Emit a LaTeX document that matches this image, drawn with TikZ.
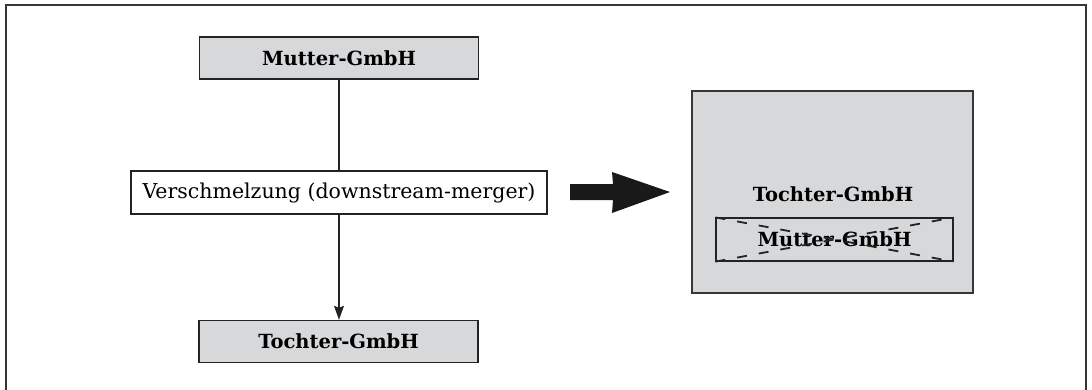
\documentclass[tikz,border=0pt]{standalone}
\usepackage{fontspec}
\setmainfont{DejaVu Serif}
\usetikzlibrary{arrows.meta}
\definecolor{boxgray}{RGB}{215,216,218}
\definecolor{edge}{RGB}{35,35,35}
\definecolor{framegray}{RGB}{55,55,55}
\begin{document}
\begin{tikzpicture}[x=1pt,y=-1pt,
  bigbold/.style={font=\fontsize{19.5}{22}\selectfont\bfseries},
  entity/.style={draw=edge,line width=1.4pt,fill=boxgray,minimum width=279pt,minimum height=42pt,
    inner sep=0pt,bigbold},
  process/.style={draw=edge,line width=1.2pt,fill=white,minimum width=416pt,minimum height=43pt,
    inner sep=0pt,font=\fontsize{20.5}{24}\selectfont},
  link/.style={draw=edge,line width=1.1pt},
  tip/.style={-{Stealth[length=14pt,width=10pt,inset=2pt]}},
  cross/.style={edge,line width=1.8pt,dash pattern=on 10pt off 12pt}
]
\useasboundingbox (0,0) rectangle (1092,389);
% outer frame, open at the bottom
\draw[framegray,line width=2.2pt] (6,392) -- (6,5) -- (1086,5) -- (1086,392);

% left side: before the merger
\node[entity]  (mutter)  at (339,58)    {Mutter-GmbH};
\node[process] (merge)   at (339,192.5) {Verschmelzung (downstream-merger)};
\node[entity]  (tochter) at (338.5,341.5) {Tochter-GmbH};
\draw[link] (mutter.south -| merge.north) -- (merge.north);
\draw[link,tip] (merge.south) -- (merge.south |- tochter.north);

% big transition arrow
\coordinate (arrtail) at (570,192);
\coordinate (arrtip) at (670,192);
\fill[black!90] (arrtail) ++(0,-8) -- (613,184) -- (612,172) -- (arrtip) -- (612,213) -- (613,200) -- (570,200) -- cycle;

% right side: after the merger
\node[draw=framegray,line width=1.6pt,fill=boxgray,minimum width=281pt,minimum height=202pt,inner sep=0pt]
  (result) at (832.5,192) {};
\node[bigbold] (tname) at (833,194) {Tochter-GmbH};
\node[draw=edge,line width=1.2pt,minimum width=237pt,minimum height=43pt,inner sep=0pt,
  bigbold] (gone) at (834.5,239.5) {Mutter-GmbH};
\draw[cross] (gone.north west) -- (gone.south east);
\draw[cross] (gone.south west) -- (gone.north east);
\end{tikzpicture}
\end{document}
